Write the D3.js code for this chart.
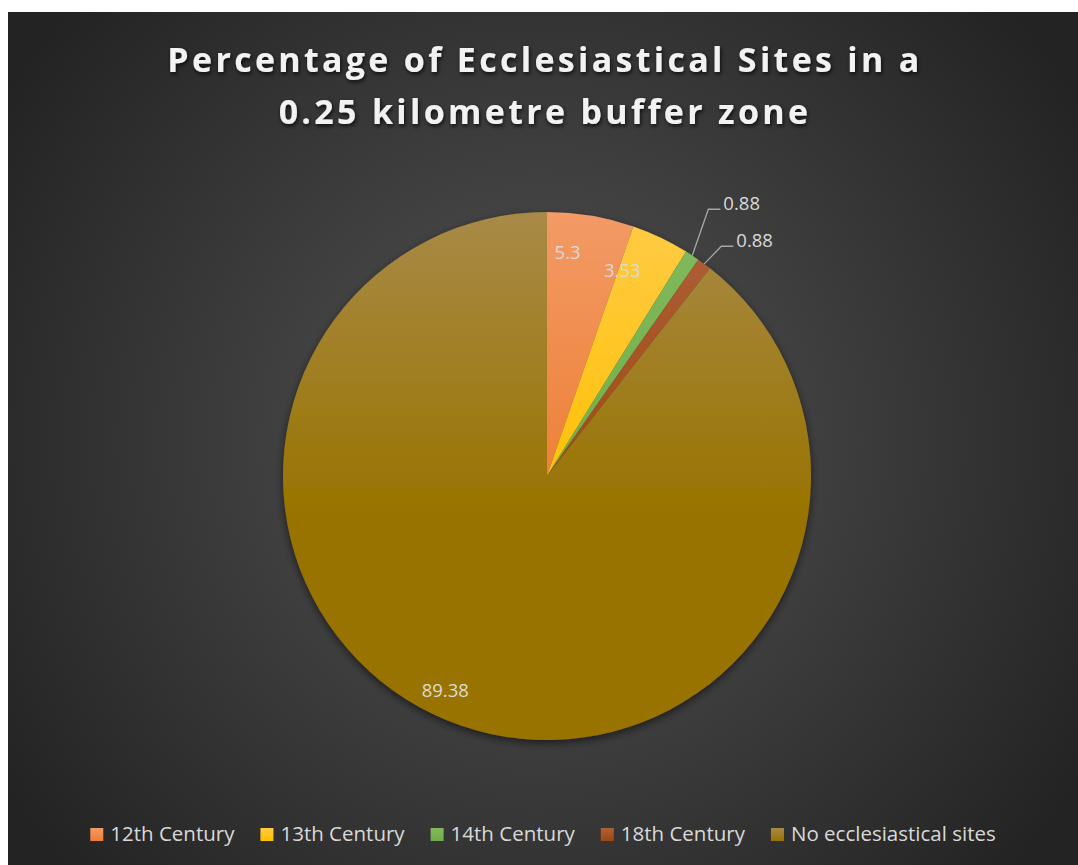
<!DOCTYPE html>
<html lang="en">
<head>
  <meta charset="UTF-8">
  <title>Ecclesiastical Sites</title>
  <style>
    body { margin: 0; background: #ffffff; overflow: hidden; }
    svg { display: block; font-family: 'Open Sans', 'Noto Sans', sans-serif; }
    .title { fill: #f2f2f2; font-weight: 700; font-size: 34px; text-anchor: middle; letter-spacing: 3.3px; }
    .lbl { fill: #d9d9d9; font-size: 18.5px; }
    .legend text { fill: #d9d9d9; font-size: 20.5px; }
    .leader { stroke: #a6a6a6; stroke-width: 1.3px; fill: none; }
  </style>
</head>
<body>
  <svg width="1078" height="865"></svg>

  <script src="https://cdnjs.cloudflare.com/ajax/libs/d3/7.8.5/d3.min.js"></script>
  <script>
    // data
    var categories = ["12th Century", "13th Century", "14th Century", "18th Century", "No ecclesiastical sites"];
    var values = [5.3, 3.53, 0.88, 0.88, 89.38];
    var baseColors = ["#ED7D31", "#FFC000", "#70AD47", "#9E480E", "#997300"];
    var topColors = ["#F39A66", "#FFCB45", "#82BA5E", "#B0603A", "#A88A47"];
    var titleLines = ["Percentage of Ecclesiastical Sites in a", "0.25 kilometre buffer zone"];

    var svg = d3.select("svg"),
        width = +svg.attr("width"),
        height = +svg.attr("height");

    var cx = 547, cy = 476, R = 264;

    var defs = svg.append("defs");

    var bg = defs.append("radialGradient").attr("id", "bg")
      .attr("gradientUnits", "userSpaceOnUse")
      .attr("cx", 540).attr("cy", 440).attr("r", 640);
    bg.append("stop").attr("offset", "0%").attr("stop-color", "#545454");
    bg.append("stop").attr("offset", "100%").attr("stop-color", "#232323");

    var shadow = defs.append("filter").attr("id", "shadow")
      .attr("x", "-20%").attr("y", "-20%").attr("width", "140%").attr("height", "140%");
    shadow.append("feDropShadow").attr("dx", 0).attr("dy", 3).attr("stdDeviation", 4)
      .attr("flood-color", "#000").attr("flood-opacity", 0.55);

    var tshadow = defs.append("filter").attr("id", "tshadow")
      .attr("x", "-10%").attr("y", "-30%").attr("width", "120%").attr("height", "160%");
    tshadow.append("feDropShadow").attr("dx", 1).attr("dy", 2).attr("stdDeviation", 2)
      .attr("flood-color", "#000").attr("flood-opacity", 0.8);

    categories.forEach(function(c, i) {
      var g = defs.append("linearGradient").attr("id", "g" + i)
        .attr("gradientUnits", "userSpaceOnUse")
        .attr("x1", 0).attr("x2", 0).attr("y1", -R).attr("y2", R * 0.15);
      g.append("stop").attr("offset", "0%").attr("stop-color", topColors[i]);
      g.append("stop").attr("offset", "100%").attr("stop-color", baseColors[i]);

      var lg = defs.append("linearGradient").attr("id", "lg" + i)
        .attr("x1", 0).attr("x2", 0).attr("y1", 0).attr("y2", 1);
      lg.append("stop").attr("offset", "0%").attr("stop-color", topColors[i]);
      lg.append("stop").attr("offset", "100%").attr("stop-color", baseColors[i]);
    });

    // background
    svg.append("rect")
      .attr("x", 8).attr("y", 12)
      .attr("width", width - 8).attr("height", height - 12)
      .attr("fill", "url(#bg)");

    // title
    var title = svg.append("text").attr("class", "title")
      .attr("filter", "url(#tshadow)");
    title.selectAll("tspan").data(titleLines).enter().append("tspan")
      .attr("x", 545)
      .attr("y", function(d, i) { return 72 + i * 52; })
      .text(function(d) { return d; });

    // pie
    var data = categories.map(function(c, i) { return { name: c, value: values[i], i: i }; });
    var pie = d3.pie().sort(null).value(function(d) { return d.value; });
    var arcs = pie(data);
    var arc = d3.arc().innerRadius(0).outerRadius(R);

    var g = svg.append("g").attr("transform", "translate(" + cx + "," + cy + ")");

    g.append("g").attr("filter", "url(#shadow)")
      .selectAll("path")
      .data(arcs)
      .enter().append("path")
        .attr("d", arc)
        .attr("fill", function(d) { return "url(#g" + d.data.i + ")"; });

    // labels: big slices inside, small ones outside with leader lines
    var inside = arcs.filter(function(d) { return d.data.value > 2; });
    var outside = arcs.filter(function(d) { return d.data.value <= 2; });

    var rIn = R * 0.86;
    g.selectAll("text.in")
      .data(inside)
      .enter().append("text")
        .attr("class", "lbl in")
        .attr("text-anchor", "end")
        .attr("x", function(d) { return Math.sin((d.startAngle + d.endAngle) / 2) * rIn - 4; })
        .attr("y", function(d) { return -Math.cos((d.startAngle + d.endAngle) / 2) * rIn; })
        .attr("dy", "0.35em")
        .text(function(d) { return d.data.value; });

    var rOut = R + 22;
    outside.forEach(function(d) {
      var a = (d.startAngle + d.endAngle) / 2;
      d.px = Math.sin(a) * R;
      d.py = -Math.cos(a) * R;
      d.ex = Math.sin(a) * rOut;
      d.ey = -Math.cos(a) * rOut;
    });
    // push labels up so they don't overlap
    for (var k = outside.length - 2; k >= 0; k--) {
      outside[k].ey = Math.min(outside[k].ey, outside[k + 1].ey - 37);
    }

    g.selectAll("path.leader")
      .data(outside)
      .enter().append("path")
        .attr("class", "leader")
        .attr("d", function(d) {
          return "M" + d.px + "," + d.py + "L" + (d.ex + 4) + "," + d.ey + "L" + (d.ex + 16) + "," + d.ey;
        });

    g.selectAll("text.out")
      .data(outside)
      .enter().append("text")
        .attr("class", "lbl out")
        .attr("x", function(d) { return d.ex + 19; })
        .attr("y", function(d) { return d.ey + 1; })
        .text(function(d) { return d.data.value; });

    // legend
    var legend = svg.append("g").attr("class", "legend");
    var items = legend.selectAll("g")
      .data(categories)
      .enter().append("g");
    items.append("rect")
      .attr("width", 13).attr("height", 13)
      .attr("y", -13)
      .attr("fill", function(d, i) { return "url(#lg" + i + ")"; });
    items.append("text")
      .attr("x", 20)
      .text(function(d) { return d; });

    var widths = [];
    items.select("text").each(function() { widths.push(20 + this.getComputedTextLength()); });
    var gap = 26;
    var total = d3.sum(widths) + gap * (widths.length - 1);
    var xPos = 543 - total / 2;
    items.attr("transform", function(d, i) {
      var t = "translate(" + xPos + ",841)";
      xPos += widths[i] + gap;
      return t;
    });
  </script>
</body>
</html>
